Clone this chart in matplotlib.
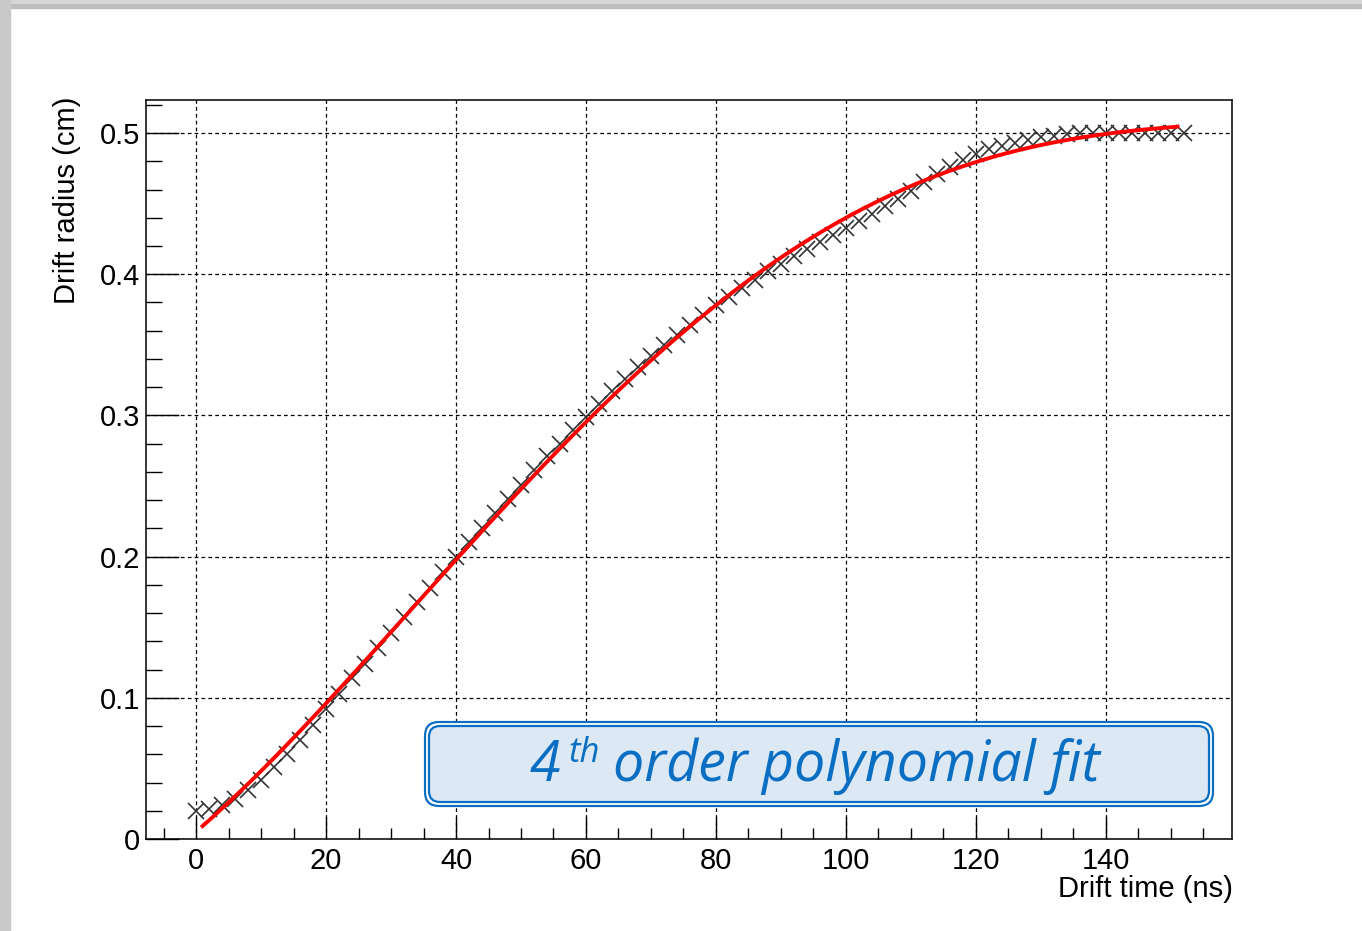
import numpy as np
import matplotlib
matplotlib.use("Agg")
import matplotlib.pyplot as plt
from matplotlib.patches import FancyBboxPatch, Rectangle
from matplotlib.ticker import MultipleLocator

# measured drift radius vs drift time, one point every 2 ns
drift_time = np.arange(0, 154, 2)
drift_radius = [
    0.020, 0.021, 0.024, 0.028, 0.035, 0.042, 0.051, 0.060, 0.070, 0.081,
    0.092, 0.103, 0.114, 0.124, 0.135, 0.146, 0.157, 0.168, 0.178, 0.189,
    0.200, 0.210, 0.220, 0.231, 0.241, 0.251, 0.261, 0.271, 0.280, 0.290,
    0.299, 0.308, 0.317, 0.326, 0.334, 0.342, 0.350, 0.357, 0.364, 0.371,
    0.378, 0.384, 0.390, 0.396, 0.402, 0.407, 0.413, 0.418, 0.423, 0.428,
    0.433, 0.438, 0.443, 0.448, 0.453, 0.459, 0.465, 0.471, 0.476, 0.481,
    0.485, 0.489, 0.491, 0.493, 0.495, 0.497, 0.498, 0.499, 0.500, 0.500,
    0.500, 0.500, 0.500, 0.500, 0.500, 0.500, 0.500,
]
fit_range = (1, 151)
fit_order = 4

x_ticks = [0, 20, 40, 60, 80, 100, 120, 140]
y_ticks = [0, 0.1, 0.2, 0.3, 0.4, 0.5]
y_ticklabels = ["0", "0.1", "0.2", "0.3", "0.4", "0.5"]

W, H = 1362, 931
plt.rcParams['font.family'] = ['Liberation Sans', 'DejaVu Sans']
fig = plt.figure(figsize=(W / 100, H / 100), dpi=100)


def fx(px):
    return px / W


def fy(py):
    return 1 - py / H


# grey page edge
fig.patches.append(Rectangle((0, fy(8)), 1, 8 / H, transform=fig.transFigure,
                             color="#bdbdbd", zorder=0))
fig.patches.append(Rectangle((0, fy(3)), 1, 3 / H, transform=fig.transFigure,
                             color="#d6d6d6", zorder=0))
fig.patches.append(Rectangle((0, 0), 10 / W, 1, transform=fig.transFigure,
                             color="#c9c9c9", zorder=0))

ax = fig.add_axes([fx(146), fy(839), (1232 - 146) / W, (839 - 100) / H])
ax.set_xlim(-7.7, 159.4)
ax.set_ylim(0, 0.5234)

ax.set_xticks(x_ticks)
ax.set_xticklabels([str(v) for v in x_ticks])
ax.set_yticks(y_ticks)
ax.set_yticklabels(y_ticklabels)
ax.xaxis.set_minor_locator(MultipleLocator(5))
ax.yaxis.set_minor_locator(MultipleLocator(0.02))
ax.tick_params(axis="x", which="major", direction="in", length=15.8, width=1.0,
               labelsize=21, pad=6, top=False)
ax.tick_params(axis="x", which="minor", direction="in", length=7.9, width=1.0, top=False)
ax.tick_params(axis="y", which="major", direction="in", length=23.5, width=1.0,
               labelsize=21, pad=4, right=False)
ax.tick_params(axis="y", which="minor", direction="in", length=11.7, width=1.0, right=False)
for s in ax.spines.values():
    s.set_linewidth(1.1)

ax.grid(True, which="major", color="black", linestyle=(0, (3, 2.5)), linewidth=0.9)
ax.set_axisbelow(True)

ax.plot(drift_time, drift_radius, linestyle="none", marker="x", markersize=11,
        markeredgewidth=1.2, color="#333333", zorder=3)

coef = np.polyfit(drift_time, drift_radius, fit_order)
t_fit = np.linspace(fit_range[0], fit_range[1], 300)
ax.plot(t_fit, np.polyval(coef, t_fit), color="red", linewidth=2.8, zorder=4)

fig.text(fx(67), fy(97), "Drift radius (cm)", rotation=90, ha="center", va="top",
         fontsize=21)
fig.text(fx(1233), fy(889), "Drift time (ns)", ha="right", va="center", fontsize=21)

# annotation box with double blue border
blue = "#0a6fc2"
outer = FancyBboxPatch((fx(437), fy(794)), fx(1201) - fx(437), fy(734) - fy(794),
                       boxstyle="round", transform=fig.transFigure,
                       facecolor="white", edgecolor=blue, linewidth=1.6,
                       zorder=5, mutation_aspect=W / H)
outer.set_boxstyle("round", pad=12 / W, rounding_size=14 / W)
fig.patches.append(outer)
inner = FancyBboxPatch((fx(437), fy(794)), fx(1201) - fx(437), fy(734) - fy(794),
                       boxstyle="round", transform=fig.transFigure,
                       facecolor="#dde8f5", edgecolor=blue, linewidth=1.6,
                       zorder=6, mutation_aspect=W / H)
inner.set_boxstyle("round", pad=8 / W, rounding_size=11 / W)
fig.patches.append(inner)

txt_kw = dict(color=blue, style="italic", family=["Open Sans", "DejaVu Sans"], zorder=7)
fig.text(fx(530), fy(781), "4", fontsize=40, ha="left", va="baseline", **txt_kw)
fig.text(fx(568), fy(762), "th", fontsize=25, ha="left", va="baseline", **txt_kw)
fig.text(fx(613), fy(781), "order polynomial fit", fontsize=40, ha="left",
         va="baseline", **txt_kw)

fig.savefig("out.png", dpi=100)
